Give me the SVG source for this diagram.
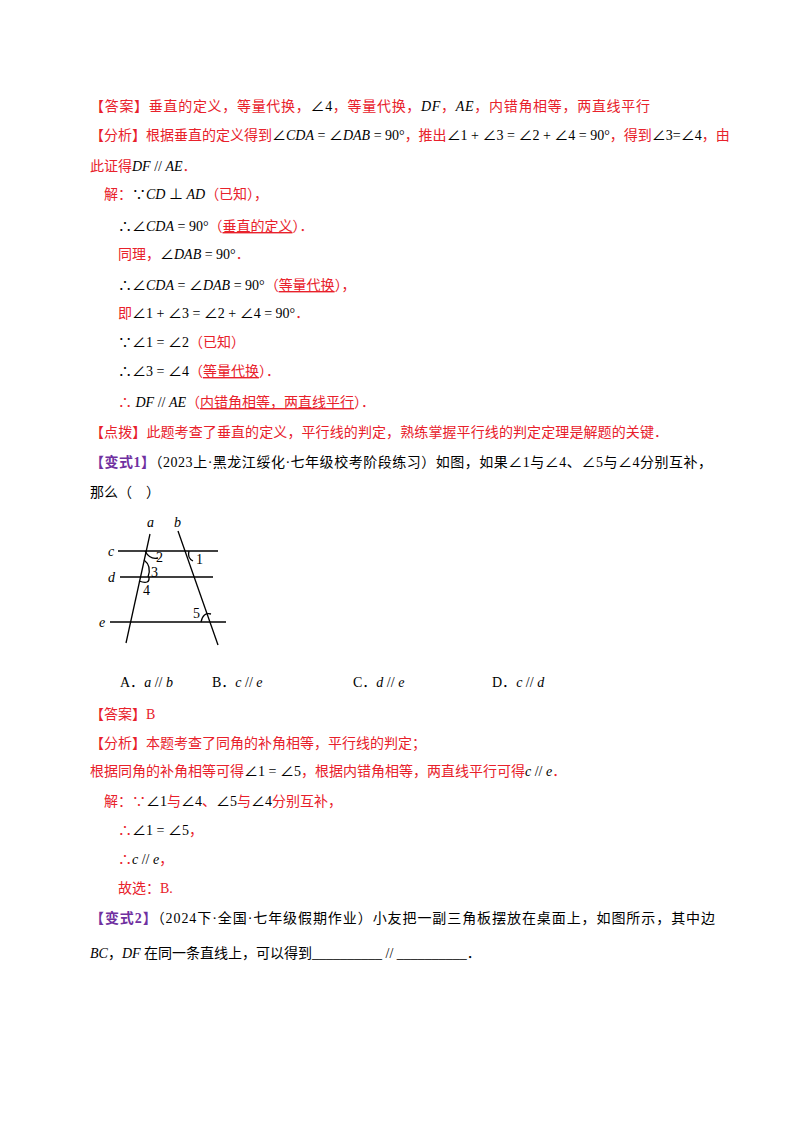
<svg xmlns="http://www.w3.org/2000/svg" width="800" height="1132" viewBox="0 0 800 1132">
<style>
text{font-family:"Liberation Serif","Noto Sans CJK SC",serif;font-size:14px;fill:#000}
.r{fill:#e8212b}
.p{fill:#7030a0;font-weight:bold}
.m{font-style:italic}
.u{text-decoration:underline}
line,path{stroke:#000;stroke-width:1.3;fill:none}
</style>
<rect width="800" height="1132" fill="#fff"/>
<g id="text">
<text x="90" y="111" textLength="560" lengthAdjust="spacing"><tspan class="r">【答案】垂直的定义，等量代换，</tspan>∠4<tspan class="r">，等量代换，</tspan><tspan class="m">DF</tspan><tspan class="r">，</tspan><tspan class="m">AE</tspan><tspan class="r">，内错角相等，两直线平行</tspan></text>
<text x="90" y="140"><tspan class="r">【分析】根据垂直的定义得到</tspan>∠<tspan class="m">CDA</tspan> = ∠<tspan class="m">DAB</tspan> = 90°<tspan class="r">，推出</tspan>∠1 + ∠3 = ∠2 + ∠4 = 90°<tspan class="r">，得到</tspan>∠3=∠4<tspan class="r">，由</tspan></text>
<text x="90" y="171"><tspan class="r">此证得</tspan><tspan class="m">DF</tspan> // <tspan class="m">AE</tspan><tspan class="r">．</tspan></text>
<text x="104" y="199"><tspan class="r">解：</tspan>∵<tspan class="m">CD</tspan> ⊥ <tspan class="m">AD</tspan><tspan class="r">（已知），</tspan></text>
<text x="118" y="231">∴∠<tspan class="m">CDA</tspan> = 90°<tspan class="r">（<tspan class="u">垂直的定义</tspan>）．</tspan></text>
<text x="118" y="259"><tspan class="r">同理，</tspan>∠<tspan class="m">DAB</tspan> = 90°<tspan class="r">．</tspan></text>
<text x="118" y="290">∴∠<tspan class="m">CDA</tspan> = ∠<tspan class="m">DAB</tspan> = 90°<tspan class="r">（<tspan class="u">等量代换</tspan>），</tspan></text>
<text x="118" y="318"><tspan class="r">即</tspan>∠1 + ∠3 = ∠2 + ∠4 = 90°<tspan class="r">．</tspan></text>
<text x="118" y="347">∵∠1 = ∠2<tspan class="r">（已知）</tspan></text>
<text x="118" y="376">∴∠3 = ∠4<tspan class="r">（<tspan class="u">等量代换</tspan>）．</tspan></text>
<text x="118" y="407"><tspan class="r">∴ </tspan><tspan class="m">DF</tspan> // <tspan class="m">AE</tspan><tspan class="r">（<tspan class="u">内错角相等，两直线平行</tspan>）．</tspan></text>
<text x="90" y="437" class="r" textLength="578" lengthAdjust="spacing">【点拨】此题考查了垂直的定义，平行线的判定，熟练掌握平行线的判定定理是解题的关键．</text>
<text x="90" y="467" textLength="622" lengthAdjust="spacing"><tspan class="p">【变式1】</tspan>（2023上·黑龙江绥化·七年级校考阶段练习）如图，如果∠1与∠4、∠5与∠4分别互补，</text>
<text x="90" y="497">那么（　）</text>
<text x="120" y="687">A．<tspan class="m">a</tspan> // <tspan class="m">b</tspan></text>
<text x="212" y="687">B．<tspan class="m">c</tspan> // <tspan class="m">e</tspan></text>
<text x="353" y="687">C．<tspan class="m">d</tspan> // <tspan class="m">e</tspan></text>
<text x="492" y="687">D．<tspan class="m">c</tspan> // <tspan class="m">d</tspan></text>
<text x="90" y="719" class="r">【答案】B</text>
<text x="90" y="748" class="r">【分析】本题考查了同角的补角相等，平行线的判定；</text>
<text x="90" y="776"><tspan class="r">根据同角的补角相等可得</tspan>∠1 = ∠5<tspan class="r">，根据内错角相等，两直线平行可得</tspan><tspan class="m">c</tspan> // <tspan class="m">e</tspan><tspan class="r">．</tspan></text>
<text x="104" y="806"><tspan class="r">解：∵</tspan>∠1<tspan class="r">与</tspan>∠4<tspan class="r">、</tspan>∠5<tspan class="r">与</tspan>∠4<tspan class="r">分别互补，</tspan></text>
<text x="118" y="835"><tspan class="r">∴</tspan>∠1 = ∠5<tspan class="r">，</tspan></text>
<text x="118" y="864"><tspan class="r">∴</tspan><tspan class="m">c</tspan> // <tspan class="m">e</tspan><tspan class="r">，</tspan></text>
<text x="118" y="893" class="r">故选：B.</text>
<text x="90" y="923" textLength="625" lengthAdjust="spacing"><tspan class="p">【变式2】</tspan>（2024下·全国·七年级假期作业）小友把一副三角板摆放在桌面上，如图所示，其中边</text>
<text x="90" y="958"><tspan class="m">BC</tspan>，<tspan class="m">DF</tspan> 在同一条直线上，可以得到__________ // __________．</text>
</g>
<g id="figure">
<line x1="150" y1="534" x2="126" y2="643"/>
<line x1="178" y1="531" x2="218" y2="645"/>
<line x1="118" y1="551" x2="218" y2="551"/>
<line x1="120" y1="577" x2="213" y2="577"/>
<line x1="110" y1="622" x2="226" y2="622"/>
<path d="M145 551 Q150 560 158 558"/>
<path d="M144 560 Q152 566 148 577"/>
<path d="M139 581 Q150 585 149 577"/>
<path d="M189 551 Q187 558 193 561"/>
<path d="M201 622 Q203 612 211 614"/>
<text x="147" y="527" class="m">a</text>
<text x="174" y="527" class="m">b</text>
<text x="108" y="556" class="m">c</text>
<text x="108" y="582" class="m">d</text>
<text x="99" y="627" class="m">e</text>
<text x="156" y="562">2</text>
<text x="151" y="577">3</text>
<text x="143" y="595">4</text>
<text x="196" y="564">1</text>
<text x="193" y="618">5</text>
</g>
</svg>
